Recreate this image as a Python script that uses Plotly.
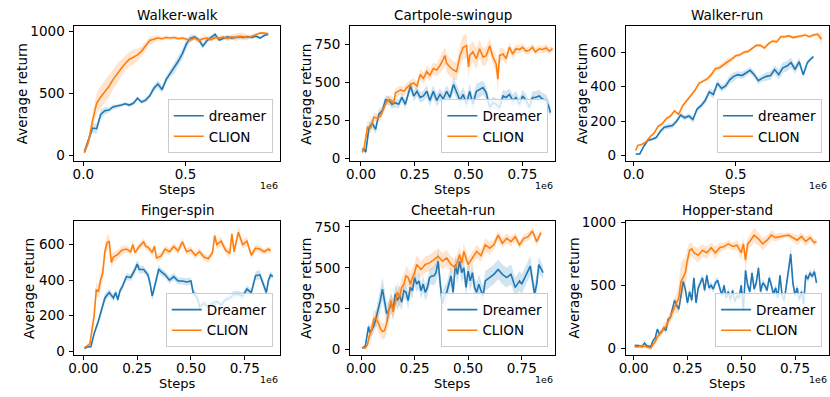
import plotly.graph_objects as go

# ---------------- data (steps in units of 1e6, average return, spread) ----------------
titles = ["Walker-walk", "Cartpole-swingup", "Walker-run",
          "Finger-spin", "Cheetah-run", "Hopper-stand"]
dreamer_labels = ["dreamer", "Dreamer", "dreamer", "Dreamer", "Dreamer", "Dreamer"]
clion_label = "CLION"

x_tickvals = [[0, 0.5], [0, 0.25, 0.5, 0.75], [0, 0.5],
              [0, 0.25, 0.5, 0.75], [0, 0.25, 0.5, 0.75], [0, 0.25, 0.5, 0.75]]
x_ticktext = [["0.0", "0.5"], ["0.00", "0.25", "0.50", "0.75"], ["0.0", "0.5"],
              ["0.00", "0.25", "0.50", "0.75"], ["0.00", "0.25", "0.50", "0.75"],
              ["0.00", "0.25", "0.50", "0.75"]]
y_tickvals = [[0, 500, 1000], [0, 250, 500, 750], [0, 200, 400, 600],
              [0, 200, 400, 600], [0, 250, 500, 750], [0, 500, 1000]]

ww_dreamer = [(0.005,30,10),(0.025,120,30),(0.045,220,40),(0.065,215,40),(0.085,330,40),(0.105,360,30),
              (0.125,365,20),(0.145,390,20),(0.165,395,15),(0.185,405,15),(0.205,415,15),(0.225,405,15),
              (0.245,420,15),(0.265,460,15),(0.285,430,15),(0.305,445,20),(0.325,480,20),(0.345,540,25),
              (0.365,575,30),(0.385,530,30),(0.405,610,30),(0.425,660,30),(0.445,700,40),(0.465,760,40),
              (0.485,820,40),(0.505,900,40),(0.525,945,25),(0.545,955,20),(0.565,930,20),(0.585,880,25),
              (0.605,925,20),(0.625,950,15),(0.645,975,15),(0.665,930,15),(0.685,940,15),(0.705,955,15),
              (0.725,945,15),(0.745,950,15),(0.765,955,15),(0.785,950,15),(0.805,955,15),(0.825,950,10),
              (0.845,960,10),(0.865,945,10),(0.885,965,10),(0.905,975,10)]
ww_clion = [(0.005,20,10),(0.025,110,40),(0.045,280,60),(0.065,420,80),(0.085,470,90),(0.105,510,90),
            (0.125,555,90),(0.145,610,80),(0.165,660,80),(0.185,700,70),(0.205,740,60),(0.225,775,60),
            (0.245,790,60),(0.265,810,50),(0.285,840,40),(0.305,880,40),(0.325,925,30),(0.345,935,25),
            (0.365,945,20),(0.385,940,15),(0.405,950,15),(0.425,945,15),(0.445,950,15),(0.465,940,15),
            (0.485,945,15),(0.505,935,15),(0.525,930,20),(0.545,945,20),(0.565,925,20),(0.585,940,20),
            (0.605,945,20),(0.625,930,15),(0.645,950,15),(0.665,945,15),(0.685,955,15),(0.705,940,20),
            (0.725,955,20),(0.745,950,30),(0.765,960,30),(0.785,955,30),(0.805,950,20),(0.825,960,15),
            (0.845,975,10),(0.865,985,10),(0.885,985,10),(0.905,980,10)]

cs_dreamer = [(0.005,60,15),(0.014,60,15),(0.022,40,15),(0.037,200,30),(0.052,230,30),(0.068,190,30),
              (0.083,290,30),(0.1,315,30),(0.114,385,30),(0.13,380,30),(0.144,355,30),(0.16,365,30),
              (0.175,355,30),(0.19,400,30),(0.206,355,30),(0.221,440,35),(0.23,475,35),(0.245,410,35),
              (0.26,440,35),(0.275,400,35),(0.29,410,35),(0.306,440,40),(0.32,380,40),(0.336,440,40),
              (0.352,380,40),(0.367,420,40),(0.382,390,40),(0.398,440,40),(0.413,400,40),(0.43,485,50),
              (0.444,440,50),(0.46,380,50),(0.475,420,50),(0.49,355,50),(0.505,440,50),(0.52,355,50),
              (0.536,440,50),(0.551,450,50),(0.567,465,45),(0.582,430,45),(0.598,335,40),(0.613,365,40),
              (0.628,355,40),(0.644,335,40),(0.66,410,40),(0.674,400,40),(0.69,420,40),(0.705,380,40),
              (0.72,400,40),(0.736,355,40),(0.751,410,40),(0.767,380,40),(0.782,335,40),(0.797,400,40),
              (0.81,400,40),(0.828,410,40),(0.843,390,40),(0.86,380,40),(0.875,330,40),(0.88,300,40)]
cs_clion = [(0.005,40,15),(0.014,60,20),(0.03,205,40),(0.045,200,40),(0.06,270,30),(0.075,265,30),
            (0.09,275,30),(0.106,335,30),(0.12,375,30),(0.135,385,30),(0.152,365,30),(0.16,430,30),
            (0.183,450,30),(0.2,440,30),(0.213,465,30),(0.23,485,30),(0.245,495,30),(0.26,475,30),
            (0.275,550,35),(0.29,525,35),(0.306,570,40),(0.32,545,40),(0.336,590,40),(0.352,580,40),
            (0.367,610,50),(0.382,650,60),(0.39,675,60),(0.398,625,60),(0.413,600,60),(0.43,580,60),
            (0.444,570,60),(0.46,675,70),(0.475,730,80),(0.49,740,80),(0.5,600,70),(0.505,675,70),
            (0.52,700,70),(0.536,655,70),(0.551,720,60),(0.567,665,60),(0.582,675,60),(0.598,740,50),
            (0.613,665,50),(0.628,620,60),(0.636,520,90),(0.644,675,50),(0.66,685,40),(0.674,655,40),
            (0.69,730,30),(0.705,685,30),(0.72,720,30),(0.736,715,30),(0.751,730,25),(0.767,705,25),
            (0.782,710,25),(0.797,730,25),(0.81,700,25),(0.828,720,25),(0.843,715,25),(0.86,725,25),
            (0.875,705,25),(0.89,720,20)]

wr_dreamer = [(0.01,10,5),(0.03,10,5),(0.05,55,10),(0.07,90,10),(0.09,95,10),(0.11,105,10),
              (0.13,140,15),(0.15,165,15),(0.17,170,15),(0.19,175,15),(0.21,200,15),(0.23,235,15),
              (0.25,220,15),(0.27,230,15),(0.29,210,20),(0.31,270,15),(0.33,290,15),(0.35,320,20),
              (0.37,370,20),(0.39,355,25),(0.41,420,20),(0.43,390,20),(0.45,405,20),(0.47,440,25),
              (0.49,460,25),(0.51,470,20),(0.53,465,20),(0.55,480,20),(0.57,495,20),(0.59,470,20),
              (0.61,435,20),(0.63,450,20),(0.65,460,25),(0.67,465,25),(0.69,500,25),(0.71,470,30),
              (0.73,510,30),(0.75,520,30),(0.77,540,30),(0.79,500,25),(0.81,545,25),(0.83,470,20),
              (0.85,540,15),(0.87,565,10),(0.88,575,10)]
wr_clion = [(0.01,30,5),(0.02,60,5),(0.04,65,5),(0.06,80,5),(0.08,110,10),(0.1,130,10),
            (0.12,170,10),(0.14,185,10),(0.16,215,10),(0.18,230,10),(0.2,260,10),(0.22,240,10),
            (0.24,290,10),(0.26,320,10),(0.28,350,10),(0.3,380,10),(0.32,420,10),(0.34,435,10),
            (0.36,445,10),(0.38,470,15),(0.4,505,15),(0.42,510,15),(0.44,530,15),(0.46,545,20),
            (0.48,560,15),(0.5,580,10),(0.52,585,10),(0.54,600,10),(0.56,605,10),(0.58,620,10),
            (0.6,640,10),(0.62,640,10),(0.64,625,10),(0.66,650,10),(0.68,665,10),(0.7,660,10),
            (0.72,690,10),(0.74,690,10),(0.76,695,10),(0.78,685,10),(0.8,690,10),(0.82,695,10),
            (0.84,700,10),(0.86,690,10),(0.88,700,10),(0.9,705,10),(0.92,675,40)]

fs_dreamer = [(0.005,15,5),(0.02,25,5),(0.035,25,5),(0.05,100,15),(0.07,170,20),(0.09,260,25),
              (0.1,300,25),(0.12,330,20),(0.14,300,20),(0.15,330,20),(0.16,290,20),(0.17,340,20),
              (0.18,360,20),(0.2,420,20),(0.22,415,20),(0.24,460,25),(0.25,490,25),(0.26,460,25),
              (0.28,460,20),(0.3,430,20),(0.31,380,25),(0.32,310,25),(0.33,360,25),(0.34,400,25),
              (0.35,460,25),(0.36,450,20),(0.38,430,20),(0.4,400,20),(0.42,420,20),(0.44,395,20),
              (0.46,395,20),(0.48,390,20),(0.5,395,20),(0.51,330,25),(0.53,300,25),(0.54,250,25),
              (0.56,270,20),(0.58,250,20),(0.6,270,20),(0.62,280,20),(0.64,260,20),(0.66,290,20),
              (0.68,300,20),(0.7,320,20),(0.72,320,20),(0.74,310,20),(0.76,350,20),(0.78,330,20),
              (0.8,425,25),(0.82,430,25),(0.84,360,25),(0.85,330,25),(0.86,400,25),(0.87,430,20),
              (0.88,420,15)]
fs_clion = [(0.005,20,5),(0.02,30,10),(0.03,40,15),(0.04,120,30),(0.05,200,40),(0.06,345,40),
            (0.07,340,40),(0.08,400,50),(0.09,440,50),(0.1,560,50),(0.11,610,40),(0.12,620,40),
            (0.13,500,40),(0.14,530,30),(0.16,545,25),(0.18,570,25),(0.2,575,20),(0.22,560,20),
            (0.23,600,25),(0.24,555,20),(0.26,590,20),(0.28,615,20),(0.29,590,20),(0.3,585,20),
            (0.32,555,20),(0.33,590,20),(0.34,525,20),(0.36,535,20),(0.38,575,20),(0.4,560,20),
            (0.42,590,20),(0.44,565,20),(0.46,615,25),(0.48,560,20),(0.5,570,20),(0.52,540,20),
            (0.54,560,20),(0.56,530,20),(0.58,520,20),(0.6,555,20),(0.61,650,25),(0.62,600,25),
            (0.64,620,25),(0.66,570,20),(0.68,550,25),(0.69,660,30),(0.7,560,30),(0.72,670,30),
            (0.74,600,25),(0.76,620,25),(0.78,540,20),(0.8,580,20),(0.82,575,20),(0.84,560,15),
            (0.86,575,15),(0.87,565,15)]

cr_dreamer = [(0.005,10,5),(0.02,20,10),(0.035,140,30),(0.04,110,30),(0.05,120,40),(0.06,145,40),
              (0.07,190,50),(0.08,240,60),(0.09,300,70),(0.1,370,70),(0.11,300,70),(0.12,220,60),
              (0.13,240,60),(0.14,280,60),(0.15,250,60),(0.16,340,60),(0.17,300,60),(0.18,330,60),
              (0.19,290,50),(0.2,360,50),(0.21,350,50),(0.22,300,50),(0.23,380,50),(0.24,360,50),
              (0.25,440,50),(0.26,400,50),(0.27,420,50),(0.28,360,50),(0.29,400,50),(0.3,350,50),
              (0.31,380,50),(0.32,440,50),(0.33,450,50),(0.34,450,60),(0.35,470,60),(0.36,540,70),
              (0.37,400,70),(0.38,280,70),(0.39,330,60),(0.4,350,60),(0.42,450,60),(0.43,350,60),
              (0.44,520,60),(0.45,460,60),(0.46,540,60),(0.47,470,60),(0.48,500,60),(0.49,380,60),
              (0.5,480,60),(0.51,420,60),(0.52,470,60),(0.53,380,60),(0.54,350,60),(0.55,400,60),
              (0.56,360,60),(0.57,330,60),(0.58,420,60),(0.6,440,60),(0.62,460,60),(0.64,490,60),
              (0.66,460,60),(0.68,440,60),(0.7,460,60),(0.72,380,60),(0.74,420,60),(0.75,400,60),
              (0.77,460,60),(0.79,510,60),(0.81,340,60),(0.82,400,60),(0.83,520,50),(0.85,470,40)]
cr_clion = [(0.005,10,5),(0.02,10,10),(0.03,30,20),(0.04,90,40),(0.05,120,50),(0.06,190,50),
            (0.07,190,50),(0.08,165,50),(0.09,130,50),(0.1,110,50),(0.11,115,50),(0.12,160,60),
            (0.13,240,60),(0.14,300,60),(0.15,230,60),(0.16,300,60),(0.17,350,60),(0.18,320,60),
            (0.19,380,60),(0.2,400,60),(0.21,450,60),(0.22,440,60),(0.23,400,60),(0.24,440,60),
            (0.25,470,60),(0.26,520,60),(0.28,490,50),(0.3,520,50),(0.32,530,50),(0.34,550,50),
            (0.36,570,50),(0.38,540,50),(0.4,560,50),(0.42,520,50),(0.44,500,50),(0.46,580,50),
            (0.47,530,50),(0.48,600,50),(0.5,520,40),(0.52,560,40),(0.54,600,40),(0.56,575,40),
            (0.58,640,40),(0.6,620,40),(0.62,640,30),(0.64,700,30),(0.66,650,30),(0.68,680,30),
            (0.7,660,30),(0.72,690,25),(0.74,640,25),(0.76,680,25),(0.78,690,25),(0.8,725,20),
            (0.82,660,30),(0.84,715,20)]

hs_dreamer = [(0.005,20,10),(0.02,20,10),(0.04,10,10),(0.05,40,10),(0.06,20,10),(0.08,10,10),
              (0.09,60,15),(0.1,80,15),(0.11,150,20),(0.12,110,20),(0.13,130,20),(0.14,160,20),
              (0.15,140,20),(0.16,230,20),(0.17,240,20),(0.18,300,25),(0.19,380,25),(0.2,340,25),
              (0.21,310,25),(0.22,420,30),(0.23,530,30),(0.24,470,30),(0.25,360,30),(0.26,450,30),
              (0.27,380,30),(0.28,560,30),(0.29,360,30),(0.3,480,30),(0.31,520,30),(0.32,560,30),
              (0.33,460,30),(0.34,580,30),(0.35,480,30),(0.36,500,30),(0.37,470,30),(0.38,520,30),
              (0.39,540,30),(0.4,480,30),(0.41,420,30),(0.42,500,30),(0.43,400,30),(0.44,450,30),
              (0.45,380,30),(0.46,460,30),(0.47,370,30),(0.48,420,30),(0.49,400,30),(0.5,500,40),
              (0.51,300,60),(0.52,620,40),(0.53,500,30),(0.54,450,30),(0.55,600,30),(0.56,470,30),
              (0.57,520,30),(0.58,640,30),(0.59,450,30),(0.6,520,30),(0.61,500,30),(0.62,460,30),
              (0.63,560,30),(0.64,500,30),(0.65,430,30),(0.66,480,30),(0.67,400,30),(0.68,580,30),
              (0.69,420,30),(0.7,380,30),(0.71,500,30),(0.72,600,40),(0.73,750,80),(0.74,520,40),
              (0.75,420,30),(0.76,480,30),(0.77,380,30),(0.78,450,30),(0.79,350,50),(0.8,580,30),
              (0.81,550,30),(0.82,600,30),(0.83,570,30),(0.84,610,30),(0.85,520,30)]
hs_clion = [(0.005,10,10),(0.02,10,10),(0.04,20,15),(0.06,10,15),(0.08,0,15),(0.09,30,20),
            (0.1,50,30),(0.11,90,30),(0.12,110,30),(0.13,130,30),(0.14,160,40),(0.15,170,40),
            (0.16,210,40),(0.17,250,50),(0.18,280,50),(0.19,330,60),(0.2,360,80),(0.21,400,120),
            (0.22,530,150),(0.23,560,150),(0.24,600,120),(0.25,700,100),(0.26,780,60),(0.27,790,50),
            (0.28,760,50),(0.3,740,60),(0.32,780,50),(0.34,760,50),(0.36,800,40),(0.38,760,50),
            (0.4,800,40),(0.42,810,30),(0.44,830,30),(0.46,810,30),(0.48,820,40),(0.5,760,60),
            (0.51,830,50),(0.52,700,80),(0.53,830,50),(0.54,850,50),(0.56,900,60),(0.58,870,50),
            (0.6,830,50),(0.62,860,40),(0.64,900,40),(0.66,880,30),(0.68,890,30),(0.7,895,20),
            (0.72,900,20),(0.74,880,30),(0.76,860,40),(0.78,890,30),(0.8,850,40),(0.82,880,30),
            (0.84,840,30),(0.85,850,20)]

dreamer_runs = [ww_dreamer, cs_dreamer, wr_dreamer, fs_dreamer, cr_dreamer, hs_dreamer]
clion_runs = [ww_clion, cs_clion, wr_clion, fs_clion, cr_clion, hs_clion]

# ---------------- layout constants (pixels) ----------------
W, H = 830, 397
FONT = "DejaVu Sans"
FS = 13.5
BLUE, ORANGE = "#1f77b4", "#ff7f0e"
BLUE_F, ORANGE_F = "rgba(31,119,180,0.2)", "rgba(255,127,14,0.2)"
boxes = [(68, 275, 20, 159), (346, 553, 20, 159), (624, 829, 20, 159),
         (68, 275, 221, 359), (346, 553, 221, 359), (624, 829, 221, 359)]
xranges = [[-0.0437, 0.961], [-0.0507, 0.903], [-0.0388, 0.956],
           [-0.0415, 0.912], [-0.051, 0.907], [-0.0369, 0.908]]
yranges = [[-47, 1039], [-19, 867], [-32, 750], [-22, 731], [-34, 784], [-56, 1010]]
ylabel_x = [14.5, 301.5, 580, 22, 302, 572]


def px(x):
    return x / W


def py(y):
    return (H - y) / H


fig = go.Figure()
annotations = []
layout = {}
for i in range(6):
    n = "" if i == 0 else str(i + 1)
    xa, ya, lg = "x" + n, "y" + n, "legend" + n
    l, r, t, b = boxes[i]
    for run, name, col, fcol in [(dreamer_runs[i], dreamer_labels[i], BLUE, BLUE_F),
                                 (clion_runs[i], clion_label, ORANGE, ORANGE_F)]:
        xs = [p[0] for p in run]
        ys = [p[1] for p in run]
        hi = [p[1] + p[2] for p in run]
        lo = [p[1] - p[2] for p in run]
        fig.add_trace(go.Scatter(x=xs + xs[::-1], y=hi + lo[::-1], fill="toself",
                                 fillcolor=fcol, line=dict(width=0), mode="lines",
                                 hoverinfo="skip", showlegend=False, xaxis=xa, yaxis=ya))
        fig.add_trace(go.Scatter(x=xs, y=ys, mode="lines", name=name,
                                 line=dict(color=col, width=1.6),
                                 xaxis=xa, yaxis=ya, legend=lg))
    common = dict(showline=True, mirror=True, linecolor="black", linewidth=1,
                  ticks="outside", ticklen=4, tickwidth=1, tickcolor="black",
                  showgrid=False, zeroline=False,
                  tickfont=dict(family=FONT, size=FS, color="black"))
    layout["xaxis" + n] = dict(domain=[px(l), px(r)], range=xranges[i], anchor=ya,
                               tickmode="array", tickvals=x_tickvals[i],
                               ticktext=x_ticktext[i], ticklabelstandoff=-3, **common)
    layout["yaxis" + n] = dict(domain=[py(b), py(t)], range=yranges[i], anchor=xa,
                               tickmode="array", tickvals=y_tickvals[i],
                               ticklabelstandoff=2, **common)
    layout[lg] = dict(x=px(r - 7), y=py(b - 8), xanchor="right", yanchor="bottom",
                      xref="paper", yref="paper",
                      bgcolor="rgba(255,255,255,0.8)", bordercolor="#cccccc", borderwidth=1,
                      font=dict(family=FONT, size=FS, color="black"),
                      itemwidth=30, tracegroupgap=0,
                      entrywidth=74, entrywidthmode="pixels")
    cx, cy = (l + r) / 2, (t + b) / 2
    annotations.append(dict(text=titles[i], x=px(cx), y=py(t - 12), xref="paper", yref="paper",
                            xanchor="center", yanchor="middle", showarrow=False,
                            font=dict(family=FONT, size=FS, color="black")))
    annotations.append(dict(text="Steps", x=px(cx), y=py(b + 29), xref="paper", yref="paper",
                            xanchor="center", yanchor="middle", showarrow=False,
                            font=dict(family=FONT, size=13, color="black")))
    annotations.append(dict(text="1e6", x=px(r), y=py(b + 25.5), xref="paper", yref="paper",
                            xanchor="right", yanchor="middle", showarrow=False,
                            font=dict(family=FONT, size=9.5, color="black")))
    annotations.append(dict(text="Average return", x=px(ylabel_x[i]), y=py(cy), xref="paper",
                            yref="paper", xanchor="center", yanchor="middle", textangle=-90,
                            showarrow=False, font=dict(family=FONT, size=FS, color="black")))

fig.update_layout(width=W, height=H, margin=dict(l=0, r=0, t=0, b=0),
                  paper_bgcolor="white", plot_bgcolor="white",
                  font=dict(family=FONT, size=FS, color="black"),
                  annotations=annotations, **layout)
fig.write_html("out.html", config={"displayModeBar": False},
               post_script="document.body.style.margin='0px';")
